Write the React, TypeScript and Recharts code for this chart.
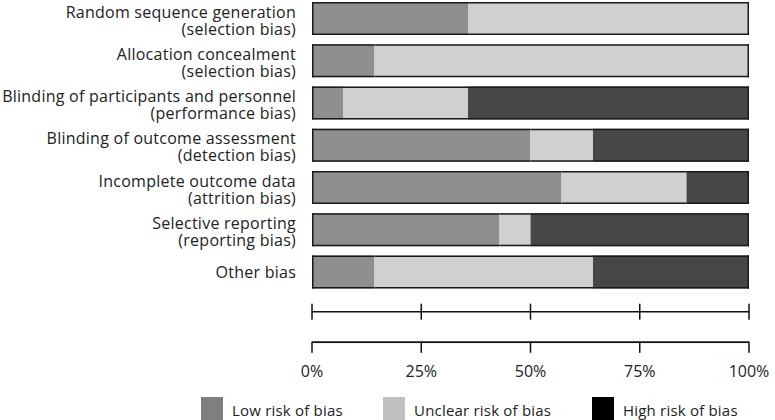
import React from "react";
import { ComposedChart, Bar, Line, XAxis, YAxis } from "recharts";

const domains = [
  "Random sequence generation|(selection bias)",
  "Allocation concealment|(selection bias)",
  "Blinding of participants and personnel|(performance bias)",
  "Blinding of outcome assessment|(detection bias)",
  "Incomplete outcome data|(attrition bias)",
  "Selective reporting|(reporting bias)",
  "Other bias",
];
const lowRisk = [35.7, 14.3, 7.1, 50.0, 57.1, 42.9, 14.3];
const unclearRisk = [64.3, 85.7, 28.6, 14.3, 28.6, 7.1, 50.0];
const highRisk = [0, 0, 64.3, 35.7, 14.3, 50.0, 35.7];
const percentTicks = [0, 25, 50, 75, 100];
const legendLabels = ["Low risk of bias", "Unclear risk of bias", "High risk of bias"];

const data = domains.map((d, i) => ({
  name: d,
  low: lowRisk[i],
  unclear: unclearRisk[i],
  high: highRisk[i],
}));

const FONT = "'Open Sans', sans-serif";
const BORDER = "#1a1a1a";
const AXIS = "#111";
const keys = ["low", "unclear", "high"];
const CHART_W = 775;
const MARGIN_R = 26;
const YAXIS_W = 312;
const PLOT_W = CHART_W - MARGIN_R - YAXIS_W;
const TICK_STEP = PLOT_W / (percentTicks.length - 1);

const makeShape = (key: string, fill: string) => (props: any) => {
  const { x, y, width, height, payload } = props;
  if (!width || width <= 0) return <g />;
  const idx = keys.indexOf(key);
  const isFirst = keys.slice(0, idx).every((k) => !payload[k]);
  const isLast = keys.slice(idx + 1).every((k) => !payload[k]);
  const sw = 1.5;
  return (
    <g>
      <rect x={x} y={y} width={width} height={height} fill={fill} />
      <line x1={x} x2={x + width} y1={y + sw / 2} y2={y + sw / 2} stroke={BORDER} strokeWidth={sw} />
      <line x1={x} x2={x + width} y1={y + height - sw / 2} y2={y + height - sw / 2} stroke={BORDER} strokeWidth={sw} />
      {isFirst && <line x1={x + sw / 2} x2={x + sw / 2} y1={y} y2={y + height} stroke={BORDER} strokeWidth={sw} />}
      {isLast && (
        <line x1={x + width - sw / 2} x2={x + width - sw / 2} y1={y} y2={y + height} stroke={BORDER} strokeWidth={sw} />
      )}
    </g>
  );
};

const YTick = (props: any) => {
  const { x, y, payload } = props;
  const lines = String(payload.value).split("|");
  const common = { textAnchor: "end" as const, fontFamily: FONT, fontSize: 16, fill: "#222", letterSpacing: 0.25 };
  if (lines.length === 1) {
    return (
      <text x={x} y={y + 6} {...common}>
        {lines[0]}
      </text>
    );
  }
  return (
    <text {...common}>
      <tspan x={x} y={y - 0.5}>{lines[0]}</tspan>
      <tspan x={x} y={y + 16.5}>{lines[1]}</tspan>
    </text>
  );
};

// upper scale line: ticks crossing the line
const GAP = 30.6;
const CrossTick = (props: any) => {
  const { x, y } = props;
  return <rect x={x - 0.75} y={y - 8} width={1.5} height={16} fill={AXIS} />;
};

// lower scale line: ticks pointing down, with percentage labels
const LowerTick = (props: any) => {
  const { x, y, payload } = props;
  const v = Number(payload?.value);
  return (
    <g>
      {v > 0 && <rect x={x - TICK_STEP} y={y - 0.75} width={TICK_STEP} height={1.5} fill={AXIS} />}
      <rect x={x - 0.75} y={y - 0.75} width={1.5} height={11.25} fill={AXIS} />
      <text x={x} y={y + 34.4} textAnchor="middle" fontFamily={FONT} fontSize={16} fill="#222">
        {`${payload.value}%`}
      </text>
    </g>
  );
};

const legendColors = ["#7f7f7f", "#c0c0c0", "#000000"];
const legendX = [201, 383, 592];

const LegendBox = () => (
  <div style={{ position: "absolute", left: 0, top: 397, width: 775, height: 30 }}>
    {legendLabels.map((l, i) => (
      <div key={l} style={{ position: "absolute", left: legendX[i], top: 0, display: "flex", alignItems: "flex-start" }}>
        <div style={{ width: 22, height: 26, background: legendColors[i] }} />
        <span
          style={{
            marginLeft: 9,
            fontFamily: FONT,
            fontSize: 15,
            letterSpacing: 0.2,
            color: "#222",
            lineHeight: "20px",
            whiteSpace: "nowrap",
            marginTop: 3,
          }}
        >
          {l}
        </span>
      </div>
    ))}
  </div>
);

export default function App() {
  return (
    <div style={{ position: "absolute", left: 0, top: 0, width: 775, height: 420, overflow: "hidden", background: "#fff" }}>
      <div style={{ position: "absolute", left: 0, top: -3 }}>
        <ComposedChart
          width={CHART_W}
          height={430}
          data={data}
          layout="vertical"
          margin={{ top: 0, right: MARGIN_R, bottom: 0, left: 0 }}
          barSize={33}
        >
          <YAxis
            type="category"
            dataKey="name"
            width={YAXIS_W}
            axisLine={false}
            tickLine={false}
            tickSize={0}
            tickMargin={16}
            tick={<YTick />}
            padding={{ top: 0, bottom: 19 }}
            interval={0}
          />
          <XAxis
            xAxisId="a"
            type="number"
            domain={[0, 100]}
            ticks={percentTicks}
            height={GAP}
            axisLine={{ stroke: AXIS, strokeWidth: 1.5 }}
            tickLine={false}
            tickSize={0}
            tickMargin={0}
            tick={<CrossTick />}
            interval={0}
          />
          <XAxis
            xAxisId="b"
            type="number"
            domain={[0, 100]}
            allowDataOverflow
            ticks={percentTicks}
            height={84.7}
            axisLine={{ stroke: AXIS, strokeWidth: 1.5 }}
            tickLine={false}
            tickSize={0}
            tickMargin={0}
            tick={<LowerTick />}
            interval={0}
          />
          <Bar xAxisId="a" dataKey="low" stackId="s" isAnimationActive={false} shape={makeShape("low", "#8f8f8f")} />
          <Bar xAxisId="a" dataKey="unclear" stackId="s" isAnimationActive={false} shape={makeShape("unclear", "#d0d0d0")} />
          <Bar xAxisId="a" dataKey="high" stackId="s" isAnimationActive={false} shape={makeShape("high", "#474747")} />
          <Line
            xAxisId="b"
            dataKey="high"
            stroke="none"
            dot={false}
            activeDot={false}
            legendType="none"
            isAnimationActive={false}
          />
        </ComposedChart>
      </div>
      <LegendBox />
    </div>
  );
}
